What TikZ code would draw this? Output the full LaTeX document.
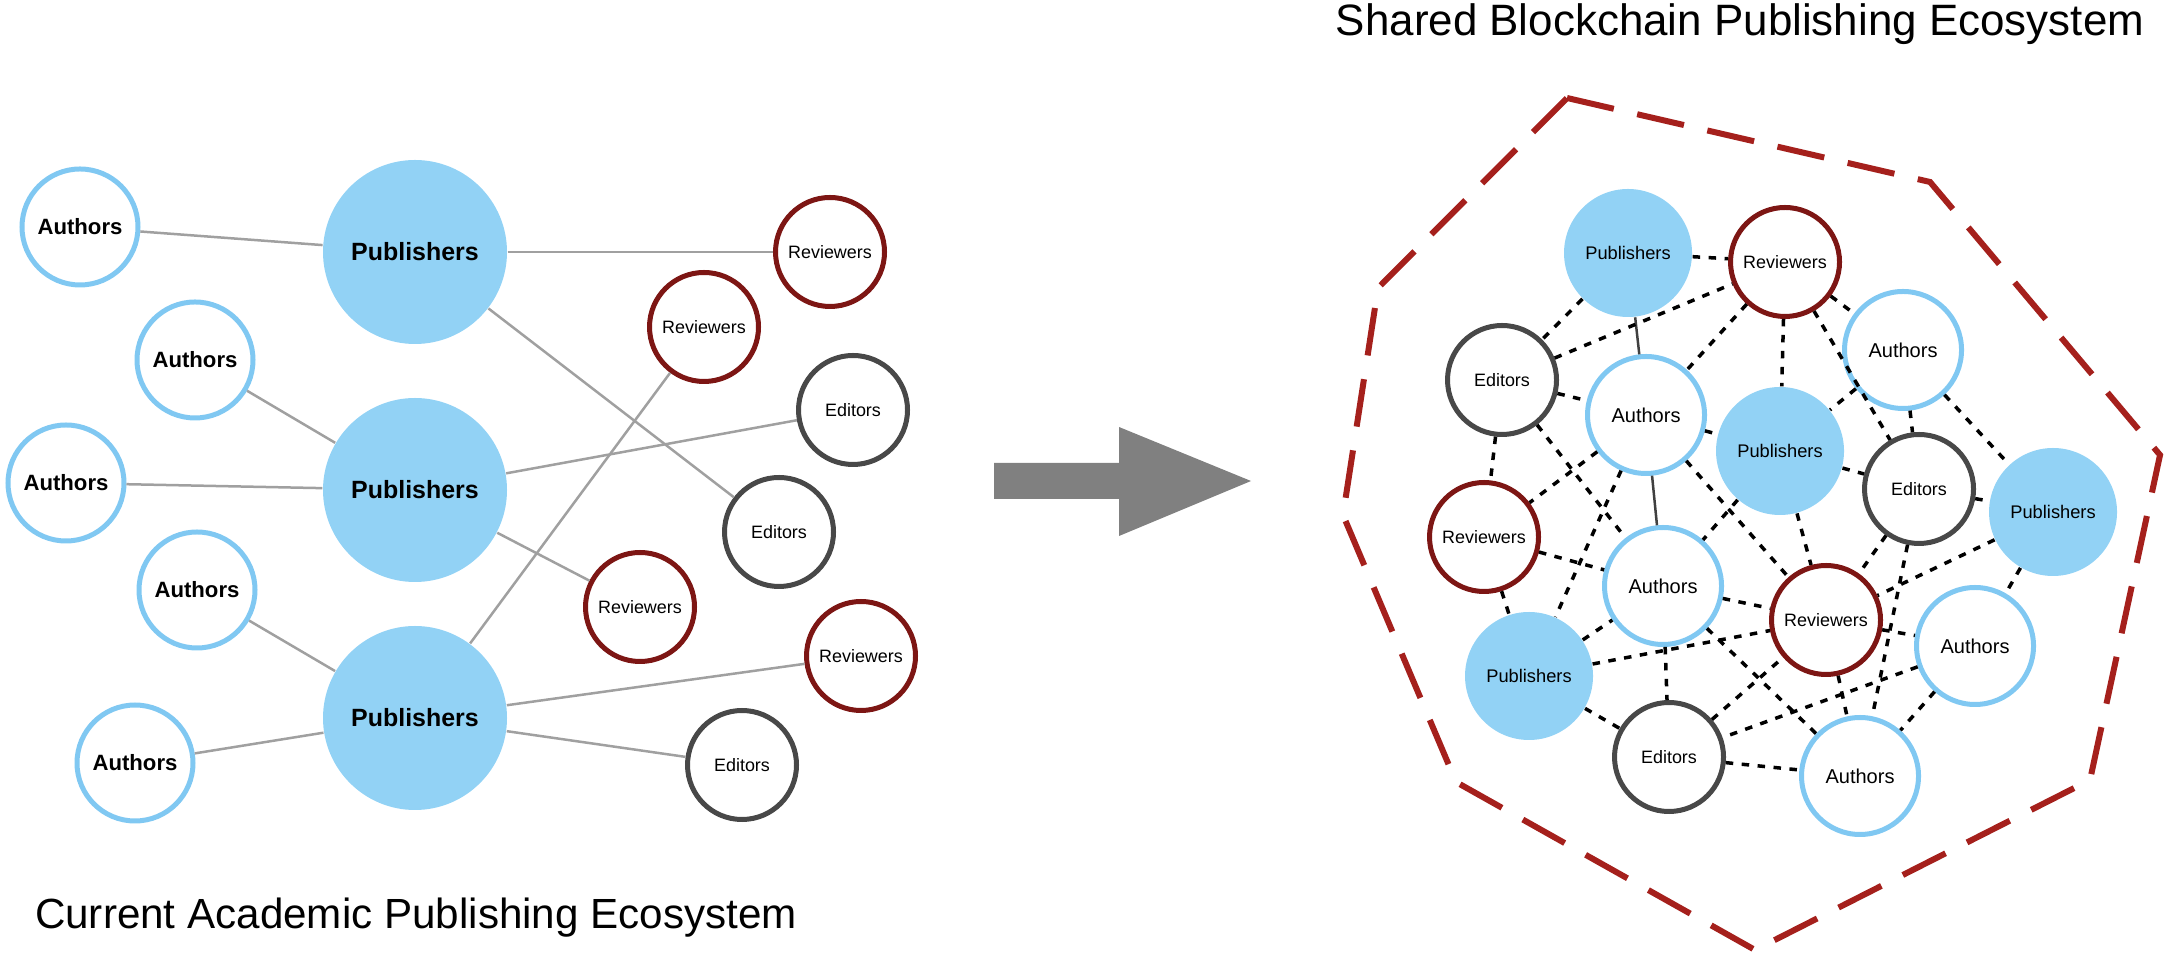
\documentclass[tikz,border=0pt]{standalone}
\usepackage{fontspec}
\setmainfont{Liberation Sans}
\definecolor{authblue}{RGB}{128,200,242}
\definecolor{pubblue}{RGB}{146,210,245}
\definecolor{revred}{RGB}{125,22,20}
\definecolor{edgray}{RGB}{72,72,72}
\definecolor{ecored}{RGB}{165,32,28}
\definecolor{linkgray}{RGB}{160,160,160}
\definecolor{arrowgray}{RGB}{128,128,128}

\begin{document}
\begin{tikzpicture}[>=stealth,
  ecobase/.style={circle, inner sep=0pt, text=black},
  lauth/.style={ecobase, draw=authblue, line width=0.05cm, fill=white, minimum size=1.16cm, font=\fontsize{6.3}{7}\selectfont\bfseries},
  lpub/.style={ecobase, fill=pubblue, minimum size=1.84cm, font=\fontsize{7.1}{8}\selectfont\bfseries},
  rev/.style={ecobase, draw=revred, line width=0.05cm, fill=white, minimum size=1.09cm, font=\fontsize{5.1}{6}\selectfont},
  editor/.style={ecobase, draw=edgray, line width=0.05cm, fill=white, minimum size=1.09cm, font=\fontsize{5.1}{6}\selectfont},
  rauth/.style={lauth, minimum size=1.17cm, font=\fontsize{5.7}{6.5}\selectfont},
  rpub/.style={lpub, minimum size=1.28cm, font=\fontsize{5.2}{6}\selectfont},
  oldlink/.style={linkgray, line width=0.025cm},
  blocklink/.style={black, line width=0.035cm, dash pattern=on 0.075cm off 0.085cm},
  solidlink/.style={black!75, line width=0.025cm}]
\useasboundingbox (0,0) rectangle (21.72,9.56);

\node[lauth] (auth1) at (0.80,7.29) {Authors};
\node[lpub] (pub1) at (4.15,7.04) {Publishers};
\node[lauth] (auth2) at (1.95,5.96) {Authors};
\node[lauth] (auth3) at (0.66,4.73) {Authors};
\node[lpub] (pub2) at (4.15,4.66) {Publishers};
\node[lauth] (auth4) at (1.97,3.66) {Authors};
\node[lauth] (auth5) at (1.35,1.93) {Authors};
\node[lpub] (pub3) at (4.15,2.38) {Publishers};
\node[rev] (rev1) at (8.30,7.04) {Reviewers};
\node[rev] (rev2) at (7.04,6.29) {Reviewers};
\node[editor] (ed1) at (8.53,5.46) {Editors};
\node[editor] (ed2) at (7.79,4.24) {Editors};
\node[rev] (rev3) at (6.40,3.49) {Reviewers};
\node[rev] (rev4) at (8.61,3.00) {Reviewers};
\node[editor] (ed3) at (7.42,1.91) {Editors};
\foreach \a/\b in {auth1/pub1, pub1/rev1, pub1/ed2, auth2/pub2, auth3/pub2, pub2/ed1, pub2/rev3, auth4/pub3, auth5/pub3, pub3/rev2, pub3/rev4, pub3/ed3}
  \draw[oldlink] (\a) -- (\b);
\node[font=\fontsize{12}{14}\selectfont] (current) at (4.16,0.38) {Current Academic Publishing Ecosystem};

\fill[arrowgray] (9.94,4.57) -- (11.19,4.57) -- (11.19,4.20) -- (12.51,4.75) -- (11.19,5.29) -- (11.19,4.93) -- (9.94,4.93) -- cycle;

\node[font=\fontsize{12.5}{14}\selectfont] (shared) at (17.40,9.32) {Shared Blockchain Publishing Ecosystem};
\draw[ecored, line width=0.06cm, dash pattern=on 0.48cm off 0.24cm] (15.67,8.58) -- (19.30,7.74) -- (21.60,5.01) -- (20.90,1.76) -- (17.55,0.06) -- (14.56,1.74) -- (13.43,4.41) -- (13.78,6.68) -- cycle;

\node[rpub] (pubA) at (16.28,7.03) {Publishers};
\node[rev] (revA) at (17.85,6.94) {Reviewers};
\node[rauth] (authA) at (19.03,6.06) {Authors};
\node[editor] (edA) at (15.02,5.76) {Editors};
\node[rauth] (authB) at (16.46,5.41) {Authors};
\node[rpub] (pubB) at (17.80,5.05) {Publishers};
\node[editor] (edB) at (19.19,4.67) {Editors};
\node[rpub] (pubC) at (20.53,4.44) {Publishers};
\node[rev] (revB) at (14.84,4.19) {Reviewers};
\node[rauth] (authC) at (16.63,3.70) {Authors};
\node[rev] (revC) at (18.26,3.36) {Reviewers};
\node[rauth] (authD) at (19.75,3.10) {Authors};
\node[rpub] (pubD) at (15.29,2.80) {Publishers};
\node[editor] (edC) at (16.69,1.99) {Editors};
\node[rauth] (authE) at (18.60,1.80) {Authors};
\draw[solidlink] (pubA) -- (authB);
\draw[solidlink] (authB) -- (authC);
\foreach \a/\b in {pubA/revA, pubA/edA, edA/revA, revA/authB, edA/authB, authB/pubB, edA/revB, authB/revB, edA/authC, authB/pubD, revB/authC, authB/revC, pubB/authC, revA/pubB, revA/edB, revA/authA, authA/pubB, authA/edB, authA/pubC, pubB/edB, edB/pubC, pubB/revC, edB/revC, edB/authE, pubC/revC, pubC/authD, revC/authD, revC/authE, authD/authE, authD/edC, edC/authE, pubD/revC, authC/revC, pubD/authC, authC/edC, pubD/edC, revB/pubD, authC/authE, edC/revC}
  \draw[blocklink] (\a) -- (\b);
\end{tikzpicture}
\end{document}
